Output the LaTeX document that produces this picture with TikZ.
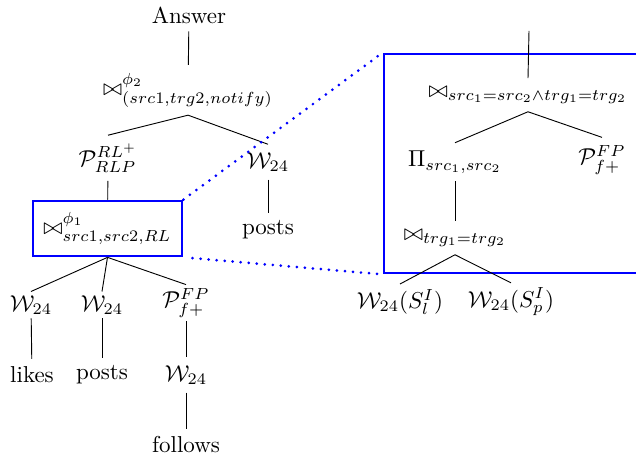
\documentclass[tikz,border=0pt]{standalone}
\begin{document}
\begin{tikzpicture}[x=0.4348pt,y=-0.4348pt,
  edge/.style={draw,line width=0.4pt},
  zoombox/.style={draw=blue,line width=1.2pt,inner sep=0pt},
  zoomline/.style={blue,line width=1.3pt,line cap=round,dash pattern=on 0pt off 3.5pt}]
\useasboundingbox (0,0) rectangle (636,461);
\clip (0,0) rectangle (636,461);
% left tree
\node (ans) at (189,15) {Answer};
\node (j2) at (188,90) {$\bowtie^{\phi_2}_{(src1,trg2,notify)}$};
\node (p1) at (108,158) {$\mathcal{P}^{RL^+}_{RLP}$};
\node (w1) at (268,162) {$\mathcal{W}_{24}$};
\node (posts1) at (268,230) {posts};
\node[zoombox,minimum width=64.8pt,minimum height=23.9pt] (j1) at (107.5,228.5) {$\bowtie^{\phi_1}_{src1,src2,RL}$};
\node[inner ysep=1.5pt] (w2) at (31,305) {$\mathcal{W}_{24}$};
\node[inner ysep=1.5pt] (w3) at (102,305) {$\mathcal{W}_{24}$};
\node[inner ysep=1.5pt] (p2) at (186,303) {$\mathcal{P}^{FP}_{f+}$};
\node (likes) at (32,375) {likes};
\node (posts2) at (102,375) {posts};
\node (w4) at (186,375) {$\mathcal{W}_{24}$};
\node (follows) at (186,445) {follows};
\draw[edge] (ans) -- (j2);
\draw[edge] (j2.south) -- (p1.north);
\draw[edge] (j2.south) -- (w1.north);
\draw[edge] (w1) -- (posts1);
\draw[edge] (p1) -- (j1);
\draw[edge] (j1.south) -- (w2.north);
\draw[edge] (j1.south) -- (w3.north);
\draw[edge] (j1.south) -- (p2.north);
\draw[edge] (w2) -- (likes);
\draw[edge] (w3) -- (posts2);
\draw[edge] (p2) -- (w4);
\draw[edge] (w4) -- (follows);
% zoomed part
\node[zoombox,minimum width=120pt,minimum height=95.2pt] (zoom) at (522,163.5) {};
\coordinate (top) at (529,31);
\node (j3) at (528,95) {$\bowtie_{src_1=src_2\wedge trg_1=trg_2}$};
\node (pi) at (455,162) {$\Pi_{src_1,src_2}$};
\node (p3) at (602,160) {$\mathcal{P}^{FP}_{f+}$};
\node (j4) at (455,238) {$\bowtie_{trg_1=trg_2}$};
\node[inner ysep=2pt] (ws1) at (400,302) {$\mathcal{W}_{24}(S^I_l)$};
\node[inner ysep=2pt] (ws2) at (511,302) {$\mathcal{W}_{24}(S^I_p)$};
\draw[edge] (top) -- (j3.north);
\draw[edge] (j3.south) -- (pi.north);
\draw[edge] (j3.south) -- (p3.north);
\draw[edge] (pi) -- (j4);
\draw[edge] (j4.south) -- (ws1.north);
\draw[edge] (j4.south) -- (ws2.north);
\draw[zoomline] (j1.north east) -- (zoom.north west);
\draw[zoomline,shorten <=4pt] (j1.south east) -- (zoom.south west);
\end{tikzpicture}
\end{document}
